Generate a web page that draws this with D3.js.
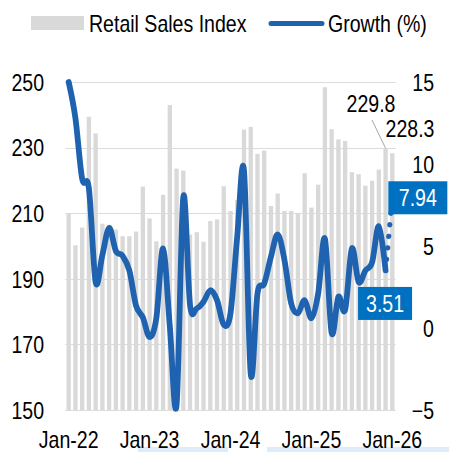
<!DOCTYPE html>
<html>
<head>
<meta charset="utf-8">
<script src="https://cdn.jsdelivr.net/npm/d3@7"></script>
<style>
  html, body { margin: 0; padding: 0; background: #fff; }
  svg { display: block; }
  text { font-family: "Liberation Sans", Arial, sans-serif; fill: #000; }
</style>
</head>
<body>
<svg id="chart" width="449" height="452"></svg>
<script>
'use strict';

// Months, Jan-22 .. Jan-26
var months = [
    'Jan-22', 'Feb-22', 'Mar-22', 'Apr-22', 'May-22', 'Jun-22', 'Jul-22', 'Aug-22', 'Sep-22', 'Oct-22', 'Nov-22', 'Dec-22',
    'Jan-23', 'Feb-23', 'Mar-23', 'Apr-23', 'May-23', 'Jun-23', 'Jul-23', 'Aug-23', 'Sep-23', 'Oct-23', 'Nov-23', 'Dec-23',
    'Jan-24', 'Feb-24', 'Mar-24', 'Apr-24', 'May-24', 'Jun-24', 'Jul-24', 'Aug-24', 'Sep-24', 'Oct-24', 'Nov-24', 'Dec-24',
    'Jan-25', 'Feb-25', 'Mar-25', 'Apr-25', 'May-25', 'Jun-25', 'Jul-25', 'Aug-25', 'Sep-25', 'Oct-25', 'Nov-25', 'Dec-25',
    'Jan-26'
];

// Retail Sales Index (bars, left axis)
var salesIndex = [
    209.8, 200.2, 205.6, 239.4, 234.3, 206.8, 206.5, 205.0, 203.0, 203.0, 204.4, 218.1,
    208.4, 201.4, 215.6, 243.0, 223.6, 223.0, 203.5, 204.2, 201.3, 207.6, 208.1, 218.2,
    210.7, 214.0, 235.5, 236.3, 228.1, 229.1, 212.2, 216.0, 210.7, 210.7, 210.1, 222.2,
    211.7, 218.7, 248.4, 235.6, 232.5, 232.0, 222.5, 221.9, 218.4, 219.9, 223.3, 229.8,
    228.3
];

// Growth (%) (line, right axis)
var growth = [
    15.0, 12.8, 9.1, 8.5, 2.8, 4.45, 6.1, 4.7, 4.4, 3.5, 1.35, 0.65,
    -0.55, 0.6, 4.85, 0.1, -4.7, 8.0, 1.4, 1.2, 1.6, 2.3, 1.7, 0.2,
    0.9, 5.6, 9.6, -2.8, 2.1, 2.7, 4.35, 5.7, 4.15, 1.5, 0.9, 1.7,
    0.6, 2.1, 5.45, -0.3, 1.9, 1.1, 4.85, 2.8, 3.5, 4.0, 6.2, 3.51,
    7.94
];

var xTickLabels = ['Jan-22', 'Jan-23', 'Jan-24', 'Jan-25', 'Jan-26'];
var leftTicks = [150, 170, 190, 210, 230, 250];
var rightTicks = [-5, 0, 5, 10, 15];

var BAR_COLOR = '#d9d9d9';
var LINE_COLOR = '#1f63b0';
var LABEL_BG = '#0070c0';
var SX = 0.85; // glyphs in the picture are narrower than they are tall

var svg = d3.select('#chart');

// Scales
var x = d3.scaleBand()
    .domain(months)
    .range([65.3, 395.7])
    .paddingInner(0.36)
    .paddingOuter(0.18);
var yLeft = d3.scaleLinear().domain([150, 250]).range([410, 82]);
var yRight = d3.scaleLinear().domain([-5, 15]).range([410, 82]);

function xc(m) { return x(m) + x.bandwidth() / 2; }

function label(parent, px, py, str, anchor) {
    return parent.append('text')
        .attr('transform', 'translate(' + px + ',' + py + ') scale(' + SX + ',1)')
        .attr('text-anchor', anchor || 'start')
        .style('font-size', '23px')
        .text(str);
}

// Light strips at the very bottom of the picture
svg.append('rect').attr('x', 138).attr('y', 447).attr('width', 90).attr('height', 5).style('fill', '#ddecf8');
svg.append('rect').attr('x', 267).attr('y', 447).attr('width', 182).attr('height', 5).style('fill', '#ddecf8');

// Gridlines
svg.append('g')
    .selectAll('line')
    .data(leftTicks)
    .enter().append('line')
    .attr('x1', x.range()[0])
    .attr('x2', x.range()[1])
    .attr('y1', function(d) { return Math.round(yLeft(d)) + 0.5; })
    .attr('y2', function(d) { return Math.round(yLeft(d)) + 0.5; })
    .style('stroke', '#dcdcdc')
    .style('stroke-width', 1);

// Bars
svg.append('g')
    .selectAll('rect')
    .data(salesIndex)
    .enter().append('rect')
    .attr('x', function(d, i) { return x(months[i]); })
    .attr('y', function(d) { return yLeft(d); })
    .attr('width', x.bandwidth())
    .attr('height', function(d) { return yLeft(150) - yLeft(d); })
    .style('fill', BAR_COLOR);

// Growth line: solid up to Dec-25, dotted to Jan-26
var pts = growth.map(function(d, i) { return [xc(months[i]), yRight(d)]; });
var line = d3.line().curve(d3.curveCardinal.tension(0));

svg.append('path')
    .attr('d', line(pts.slice(0, pts.length - 1)))
    .style('fill', 'none')
    .style('stroke', LINE_COLOR)
    .style('stroke-width', 5.8)
    .style('stroke-linejoin', 'round')
    .style('stroke-linecap', 'round');

svg.append('path')
    .attr('d', d3.line()(pts.slice(pts.length - 2)))
    .style('fill', 'none')
    .style('stroke', LINE_COLOR)
    .style('stroke-width', 5.2)
    .style('stroke-linecap', 'round')
    .style('stroke-dasharray', '0.1,11.5')
    .style('stroke-dashoffset', -11);

// Axes
var leftAxis = svg.append('g')
    .attr('transform', 'translate(44,0)')
    .call(d3.axisLeft(yLeft).tickValues(leftTicks).tickSize(0).tickPadding(0));
var rightAxis = svg.append('g')
    .attr('transform', 'translate(434,0)')
    .call(d3.axisRight(yRight).tickValues(rightTicks).tickSize(0).tickPadding(0));
var bottomAxis = svg.append('g')
    .attr('transform', 'translate(0,410)')
    .call(d3.axisBottom(x).tickValues(xTickLabels).tickSize(0).tickPadding(0));

[leftAxis, rightAxis, bottomAxis].forEach(function(ax) {
    ax.select('.domain').remove();
    ax.selectAll('text')
        .attr('x', 0)
        .attr('fill', '#000')
        .style('font-family', '"Liberation Sans", Arial, sans-serif')
        .style('font-size', '23px');
});
leftAxis.selectAll('text').attr('dy', '0.36em').attr('transform', 'scale(' + SX + ',1)');
rightAxis.selectAll('text').attr('dy', '0.36em').attr('text-anchor', 'end').attr('transform', 'scale(' + SX + ',1)');
bottomAxis.selectAll('text').attr('y', 38).attr('dy', 0).attr('transform', 'scale(' + SX + ',1)');

// Bar labels for the last two months
var lastM = months[months.length - 1], prevM = months[months.length - 2];
svg.append('line')
    .attr('x1', 372).attr('y1', 120)
    .attr('x2', xc(prevM)).attr('y2', yLeft(salesIndex[salesIndex.length - 2]))
    .style('stroke', '#a6a6a6')
    .style('stroke-width', 1);
label(svg, 371, 111.5, d3.format('.1f')(salesIndex[salesIndex.length - 2]), 'middle');
label(svg, 410, 136.5, d3.format('.1f')(salesIndex[salesIndex.length - 1]), 'middle');

// Growth value labels
function valueBox(bx, by, w, h, v) {
    svg.append('rect')
        .attr('x', bx).attr('y', by)
        .attr('width', w).attr('height', h)
        .style('fill', LABEL_BG);
    label(svg, bx + w / 2, by + h / 2 + 8.3, d3.format('.2f')(v), 'middle')
        .style('fill', '#fff');
}
valueBox(xc(lastM) - 4, yRight(growth[growth.length - 1]) - 16.5, 59, 33, growth[growth.length - 1]);
valueBox(xc(prevM) - 27.5, yRight(growth[growth.length - 2]) + 16.5, 54, 33, growth[growth.length - 2]);

// Legend
svg.append('rect')
    .attr('x', 31).attr('y', 16)
    .attr('width', 53).attr('height', 14)
    .style('fill', BAR_COLOR);
label(svg, 89, 31.5, 'Retail Sales Index');
svg.append('line')
    .attr('x1', 271).attr('x2', 322)
    .attr('y1', 23.5).attr('y2', 23.5)
    .style('stroke', LINE_COLOR)
    .style('stroke-width', 5)
    .style('stroke-linecap', 'round');
label(svg, 328, 31.5, 'Growth (%)');
</script>
</body>
</html>
